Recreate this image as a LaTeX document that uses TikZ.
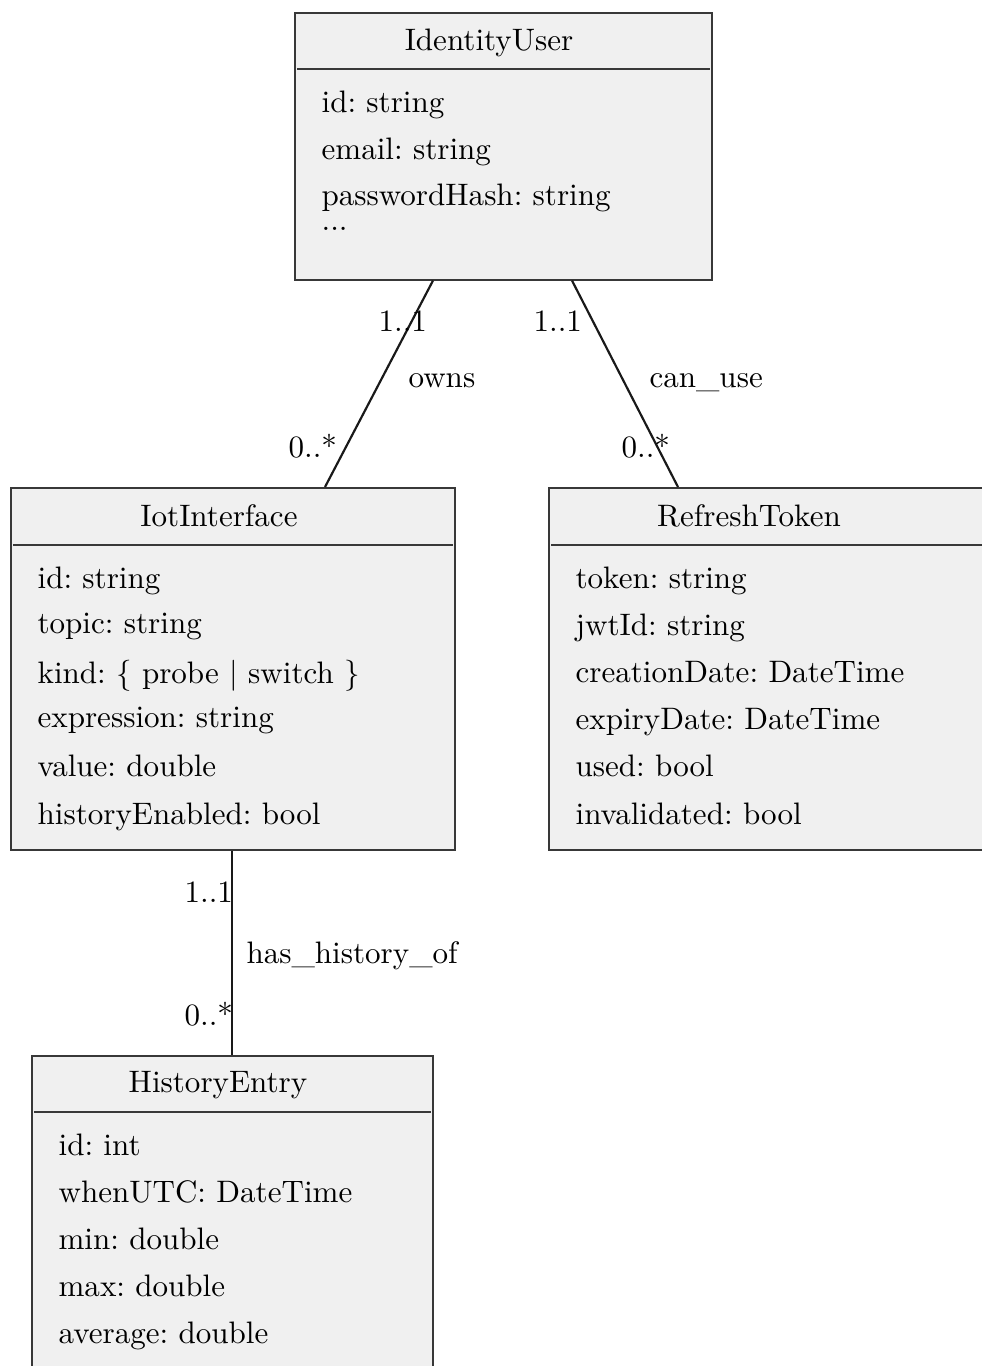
\documentclass[tikz,border=0pt]{standalone}
\usetikzlibrary{positioning}
\begin{document}
\frenchspacing
\begin{tikzpicture}[x={(0.322pt,0)},y={(0,-0.322pt)},
  umlbox/.style={draw=black!78,fill=black!6,line width=0.5pt,rectangle,inner sep=0pt,anchor=north west},
  sepline/.style={draw=black!78,line width=0.5pt},
  assoc/.style={draw=black!90,line width=0.7pt},
  txt/.style={inner sep=0pt,anchor=base west,font=\fontsize{10}{12}\selectfont\frenchspacing},
  ttl/.style={inner sep=0pt,anchor=base,font=\fontsize{10}{12}\selectfont\frenchspacing}]
\useasboundingbox (0,0) rectangle (982,1366);
\clip (0,0) rectangle (982,1366);
% boxes
\node[umlbox,minimum width=417*0.322pt,minimum height=267*0.322pt] (iu) at (294,12) {};
\node[umlbox,minimum width=444*0.322pt,minimum height=362*0.322pt] (ii) at (10,487) {};
\node[umlbox,minimum width=436*0.322pt,minimum height=362*0.322pt] (rt) at (548,487) {};
\node[umlbox,minimum width=401*0.322pt,minimum height=340*0.322pt] (he) at (31,1055) {};
% separators
\draw[sepline] ([xshift=3*0.322pt,yshift=-57*0.322pt]iu.north west) -- ([xshift=-3*0.322pt,yshift=-57*0.322pt]iu.north east);
\draw[sepline] ([xshift=3*0.322pt,yshift=-58*0.322pt]ii.north west) -- ([xshift=-3*0.322pt,yshift=-58*0.322pt]ii.north east);
\draw[sepline] ([xshift=3*0.322pt,yshift=-58*0.322pt]rt.north west) -- ([xshift=-3*0.322pt,yshift=-58*0.322pt]rt.north east);
\draw[sepline] ([xshift=3*0.322pt,yshift=-57*0.322pt]he.north west) -- ([xshift=-3*0.322pt,yshift=-57*0.322pt]he.north east);
% IdentityUser
\node[ttl] (iut) at (489,50) {IdentityUser};
\node[txt] (iu1) at (321,112) {id: string};
\node[txt] (iu2) at (321,159) {email: string};
\node[txt] (iu3) at (321,205) {passwordHash: string};
\node[txt] (iu4) at (321,230) {...};
% IotInterface
\node[ttl] (iit) at (219,526) {IotInterface};
\node[txt] (ii1) at (37,588) {id: string};
\node[txt] (ii2) at (37,633) {topic: string};
\node[txt] (ii3) at (37,683) {kind: \{ probe $|$ switch \}};
\node[txt] (ii4) at (37,727) {expression: string};
\node[txt] (ii5) at (37,776) {value: double};
\node[txt] (ii6) at (37,824) {historyEnabled: bool};
% RefreshToken
\node[ttl] (rtt) at (749,526) {RefreshToken};
\node[txt] (rt1) at (575,588) {token: string};
\node[txt] (rt2) at (575,635) {jwtId: string};
\node[txt] (rt3) at (575,682) {creationDate: DateTime};
\node[txt] (rt4) at (575,729) {expiryDate: DateTime};
\node[txt] (rt5) at (575,776) {used: bool};
\node[txt] (rt6) at (575,824) {invalidated: bool};
% HistoryEntry
\node[ttl] (het) at (218,1092) {HistoryEntry};
\node[txt] (he1) at (58,1155) {id: int};
\node[txt] (he2) at (58,1202) {whenUTC: DateTime};
\node[txt] (he3) at (58,1249) {min: double};
\node[txt] (he4) at (58,1296) {max: double};
\node[txt] (he5) at (58,1343) {average: double};
% connectors
\draw[assoc] ([xshift=139*0.322pt]iu.south west) -- ([xshift=315*0.322pt]ii.north west);
\draw[assoc] ([xshift=278*0.322pt]iu.south west) -- ([xshift=130*0.322pt]rt.north west);
\draw[assoc] ([xshift=222*0.322pt]ii.south west) -- ([xshift=201*0.322pt]he.north west);
% labels
\node[txt] (l1) at (378,331) {1..1};
\node[txt] (l2) at (408,387) {owns};
\node[txt] (l3) at (288,457) {0..*};
\node[txt] (l4) at (533,331) {1..1};
\node[txt] (l5) at (649,387) {can\_use};
\node[txt] (l6) at (621,457) {0..*};
\node[txt] (l7) at (184,902) {1..1};
\node[txt] (l8) at (246,963) {has\_history\_of};
\node[txt] (l9) at (184,1025) {0..*};
\end{tikzpicture}
\end{document}
